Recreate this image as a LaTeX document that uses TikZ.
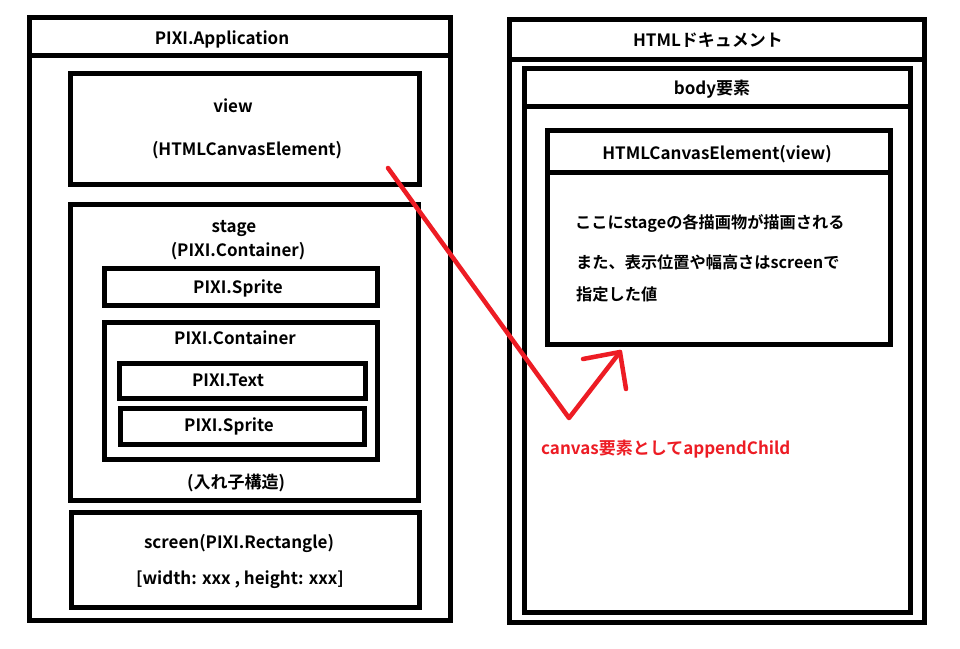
\documentclass[tikz,border=0pt]{standalone}
\usepackage{fontspec}
\setmainfont{Noto Sans CJK JP}[BoldFont={Noto Sans CJK JP Bold}]
\definecolor{paintred}{HTML}{ED1C24}
\begin{document}
\begin{tikzpicture}[x=1pt,y=-1pt,
  box/.style={draw=black, line width=5pt},
  lbl/.style={font=\fontsize{17}{20}\selectfont\bfseries, inner sep=0pt, anchor=base},
  lbll/.style={lbl, anchor=base west},
  cjkl/.style={lbll, font=\fontsize{16.2}{20}\selectfont\bfseries},
  redline/.style={draw=paintred, line width=4.5pt, line cap=round, line join=round}]
\useasboundingbox (0,0) rectangle (960,648);
\fill[white] (0,0) rectangle (960,648);
% left: PIXI.Application
\draw[box] (29.5,17.5) rectangle (450.5,620.5);
\draw[box] (29.5,55.5) -- (450.5,55.5);
\node[lbl] (app) at (222,44.5) {PIXI.Application};
\draw[box] (70,73) rectangle (419.5,184);
\node[lbl] (view) at (233,112) {view};
\node[lbl] (viewtype) at (247,155.5) {(HTMLCanvasElement)};
\draw[box] (70,204.5) rectangle (418,500);
\node[lbl] (stage) at (234,232.5) {stage};
\node[lbl] (stagetype) at (238,256.5) {(PIXI.Container)};
\draw[box] (104,268) rectangle (377,305);
\node[lbl] (sprite1) at (238,293) {PIXI.Sprite};
\draw[box] (104,322) rectangle (377,459);
\node[lbl] (cont) at (235,344) {PIXI.Container};
\draw[box] (119,363) rectangle (365,398);
\node[lbl] (txt) at (228,386) {PIXI.Text};
\draw[box] (120,408) rectangle (364,444);
\node[lbl] (sprite2) at (229,431.5) {PIXI.Sprite};
\node[lbl] (nest) at (236,488.5) {(入れ子構造)};
\draw[box] (71,512) rectangle (419,607);
\node[lbl] (screen) at (239,548.5) {screen(PIXI.Rectangle)};
\node[lbl] (size) at (240,584.3) {[width: xxx , height: xxx]};
% right: HTML document
\draw[box] (509.5,19.5) rectangle (924.5,622.5);
\draw[box] (509.5,59.5) -- (924.5,59.5);
\node[lbl] (doc) at (708,46) {HTMLドキュメント};
\draw[box] (524.5,68.5) rectangle (910.5,612.5);
\draw[box] (524.5,106.5) -- (910.5,106.5);
\node[lbl] (body) at (712,94.3) {body要素};
\draw[box] (547.5,130.5) rectangle (890.5,344.5);
\draw[box] (547.5,172.5) -- (890.5,172.5);
\node[lbl] (canvas) at (717,159.5) {HTMLCanvasElement(view)};
\node[cjkl] (l1) at (575,228.3) {ここにstageの各描画物が描画される};
\node[cjkl] (l2) at (576,268.3) {また、表示位置や幅高さはscreenで};
\node[cjkl] (l3) at (576,300) {指定した値};
% red arrow
\coordinate (a0) at (388,168);
\coordinate (a1) at (569,418);
\coordinate (a2) at (620,352);
\coordinate (h1) at (583,359);
\coordinate (h2) at (626,389);
\draw[redline] (a0) -- (a1) -- (a2);
\draw[redline] (h1) -- (a2) -- (h2);
\node[lbll, text=paintred] (append) at (541,454.5) {canvas要素としてappendChild};
\end{tikzpicture}
\end{document}
